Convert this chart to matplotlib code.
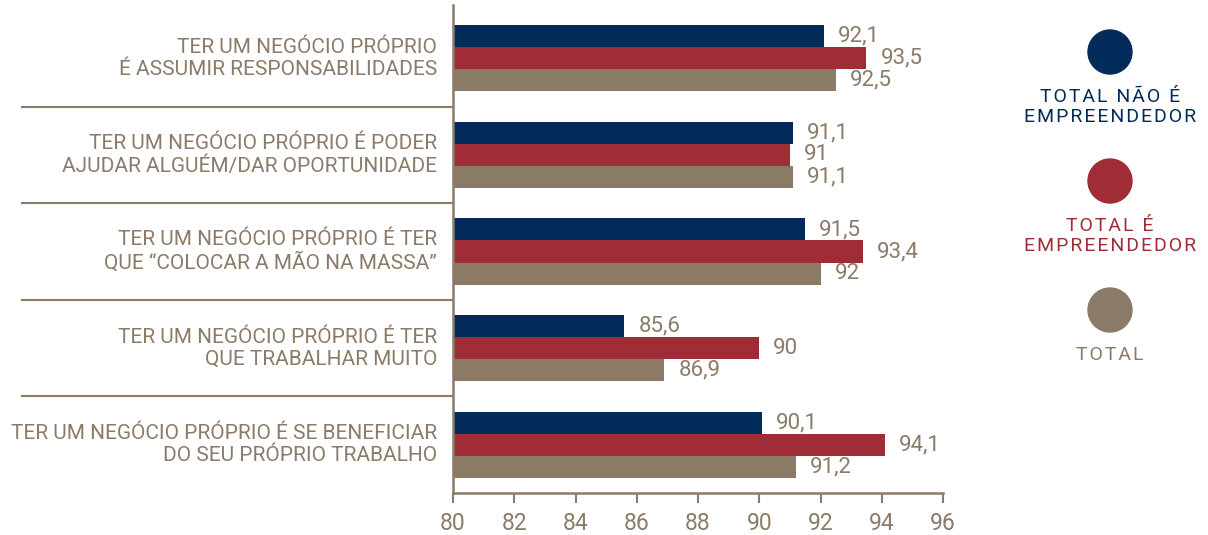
import matplotlib.pyplot as plt
import matplotlib.transforms as mtransforms
from matplotlib.patches import Ellipse
import numpy as np

plt.rcParams['font.family'] = ['Roboto', 'DejaVu Sans']

categorias = [
    "TER UM NEGÓCIO PRÓPRIO\nÉ ASSUMIR RESPONSABILIDADES",
    "TER UM NEGÓCIO PRÓPRIO É PODER\nAJUDAR ALGUÉM/DAR OPORTUNIDADE",
    "TER UM NEGÓCIO PRÓPRIO É TER\nQUE “COLOCAR A MÃO NA MASSA”",
    "TER UM NEGÓCIO PRÓPRIO É TER\nQUE TRABALHAR MUITO",
    "TER UM NEGÓCIO PRÓPRIO É SE BENEFICIAR\nDO SEU PRÓPRIO TRABALHO",
]
nao_empreendedor = [92.1, 91.1, 91.5, 85.6, 90.1]
empreendedor = [93.5, 91.0, 93.4, 90.0, 94.1]
total = [92.5, 91.1, 92.0, 86.9, 91.2]

series = ["TOTAL NÃO É\nEMPREENDEDOR", "TOTAL É\nEMPREENDEDOR", "TOTAL"]
cores = ["#032B5A", "#A02D35", "#8B7A66"]
texto = "#8C7B69"

W, H = 1208, 535
fig = plt.figure(figsize=(W / 100, H / 100), dpi=100)
ax = fig.add_axes([453 / W, 1 - 493 / H, 490 / W, 483 / H])

y = np.arange(len(categorias))
h = 0.228
for k, (vals, cor) in enumerate(zip([nao_empreendedor, empreendedor, total], cores)):
    pos = y + (k - 1) * h
    ax.barh(pos, np.array(vals) - 80, left=80, height=h, color=cor)
    for p, v in zip(pos, vals):
        rot = f"{v:g}".replace(".", ",")
        ax.annotate(rot, (v, p), xytext=(14, 0), textcoords="offset pixels",
                    va="center", ha="left", fontsize=16, color=texto)

ax.set_xlim(80, 96)
ax.set_ylim(4.5, -0.5)
ax.set_xticks(np.arange(80, 97, 2))
ax.set_yticks([])
for s in ["top", "right"]:
    ax.spines[s].set_visible(False)
for s in ["left", "bottom"]:
    ax.spines[s].set_color(texto)
    ax.spines[s].set_linewidth(1.8)
ax.spines["left"].set_bounds(4.5, -0.55)
ax.tick_params(axis="x", colors=texto, labelsize=16.5, length=7, width=1.5, pad=7)

# rótulos das categorias e linhas separadoras
trans = mtransforms.blended_transform_factory(ax.transAxes, ax.transData)
for i, cat in enumerate(categorias):
    ax.text(-16 / 490, i, cat, transform=trans, ha="right", va="center",
            fontsize=15, color=texto, linespacing=1.2)
    if i > 0:
        ax.plot([-431 / 490, 0], [i - 0.5, i - 0.5], transform=trans,
                color=texto, lw=1.5, clip_on=False)

# legenda manual
def espacado(s):
    return "\n".join("\u200a".join(linha) for linha in s.split("\n"))

for j, (nome, cor) in enumerate(zip(series, cores)):
    cy = 1 - (52 + j * 129) / H
    fig.patches.append(Ellipse((1110 / W, cy), 44 / W, 44 / H,
                               transform=fig.transFigure, color=cor))
    fig.text(1110 / W, cy - 36 / H, espacado(nome), ha="center", va="top",
             fontsize=14, color=cor if j < 2 else texto, linespacing=1.15)

fig.savefig("out.png", dpi=100)
